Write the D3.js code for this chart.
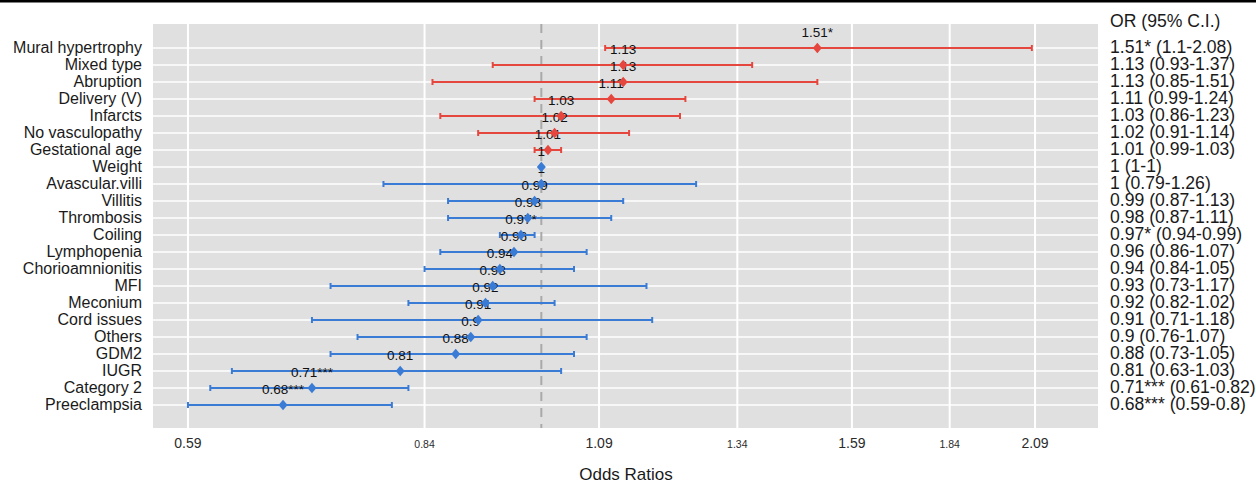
<!DOCTYPE html>
<html>
<head>
<meta charset="utf-8">
<script src="https://cdn.jsdelivr.net/npm/d3@7"></script>
<style>
  body { margin: 0; background: #fff; }
  svg { display: block; font-family: "Liberation Sans", Arial, Helvetica, sans-serif; }
</style>
</head>
<body>
<div id="chart"></div>
<script>
const labels = ["Mural hypertrophy", "Mixed type", "Abruption", "Delivery (V)", "Infarcts", "No vasculopathy",
  "Gestational age", "Weight", "Avascular.villi", "Villitis", "Thrombosis", "Coiling", "Lymphopenia",
  "Chorioamnionitis", "MFI", "Meconium", "Cord issues", "Others", "GDM2", "IUGR", "Category 2", "Preeclampsia"];
const oddsRatio = [1.51, 1.13, 1.13, 1.11, 1.03, 1.02, 1.01, 1, 1, 0.99, 0.98, 0.97, 0.96, 0.94, 0.93, 0.92, 0.91, 0.9, 0.88, 0.81, 0.71, 0.68];
const ciLower = [1.1, 0.93, 0.85, 0.99, 0.86, 0.91, 0.99, 1, 0.79, 0.87, 0.87, 0.94, 0.86, 0.84, 0.73, 0.82, 0.71, 0.76, 0.73, 0.63, 0.61, 0.59];
const ciUpper = [2.08, 1.37, 1.51, 1.24, 1.23, 1.14, 1.03, 1, 1.26, 1.13, 1.11, 0.99, 1.07, 1.05, 1.17, 1.02, 1.18, 1.07, 1.05, 1.03, 0.82, 0.8];
const stars = ["*", "", "", "", "", "", "", "", "", "", "", "*", "", "", "", "", "", "", "", "", "***", "***"];
const xTicks = [0.59, 0.84, 1.09, 1.34, 1.59, 1.84, 2.09];

const W = 1256, H = 485;
const panel = { left: 153, right: 1098, top: 24, bottom: 428 };
const red = "#e5463d", blue = "#3a7bd5";

const rows = labels.map((name, i) => ({
  name, or: oddsRatio[i], lo: ciLower[i], hi: ciUpper[i], star: stars[i]
}));

const svg = d3.select("#chart").append("svg")
    .attr("width", W)
    .attr("height", H);

// thin black strip across the top
svg.append("rect").attr("x", 0).attr("y", 0).attr("width", W).attr("height", 2.5).attr("fill", "#000");

const x = d3.scaleLog().domain([0.56, 2.296]).range([panel.left, panel.right]);
const y = d3.scalePoint().domain(labels).range([48, 405]);

svg.append("rect")
    .attr("x", panel.left).attr("y", panel.top)
    .attr("width", panel.right - panel.left).attr("height", panel.bottom - panel.top)
    .attr("fill", "#e0e0e0");

// grid
svg.append("g").selectAll("line").data(labels).join("line")
    .attr("x1", panel.left).attr("x2", panel.right)
    .attr("y1", d => y(d)).attr("y2", d => y(d))
    .attr("stroke", "#fff").attr("stroke-width", 1.6);

svg.append("g").selectAll("line").data(xTicks).join("line")
    .attr("x1", d => x(d)).attr("x2", d => x(d))
    .attr("y1", panel.top).attr("y2", panel.bottom)
    .attr("stroke", "#fff").attr("stroke-width", 2);

// reference line at OR = 1
svg.append("line")
    .attr("x1", x(1)).attr("x2", x(1))
    .attr("y1", panel.top).attr("y2", panel.bottom)
    .attr("stroke", "#a9a9a9").attr("stroke-width", 2)
    .attr("stroke-dasharray", "9,7");

const colorOf = d => d.or > 1 ? red : blue;

// error bars
const bars = svg.append("g").selectAll("g").data(rows).join("g")
    .attr("stroke", colorOf).attr("stroke-width", 2);
bars.append("line")
    .attr("x1", d => x(d.lo)).attr("x2", d => x(d.hi))
    .attr("y1", d => y(d.name)).attr("y2", d => y(d.name));
bars.append("line")
    .attr("x1", d => x(d.lo)).attr("x2", d => x(d.lo))
    .attr("y1", d => y(d.name) - 3).attr("y2", d => y(d.name) + 3);
bars.append("line")
    .attr("x1", d => x(d.hi)).attr("x2", d => x(d.hi))
    .attr("y1", d => y(d.name) - 3).attr("y2", d => y(d.name) + 3);

// point labels (nudged up)
svg.append("g").selectAll("text").data(rows).join("text")
    .attr("x", d => x(d.or))
    .attr("y", d => y(d.name) - 11.5)
    .attr("text-anchor", "middle")
    .attr("font-size", 13.5)
    .attr("fill", "#111")
    .text(d => `${d.or}${d.star}`);

// diamonds
svg.append("g").selectAll("path").data(rows).join("path")
    .attr("d", d => {
      const cx = x(d.or), cy = y(d.name), p = d3.path();
      p.moveTo(cx, cy - 5.2); p.lineTo(cx + 4.5, cy); p.lineTo(cx, cy + 5.2); p.lineTo(cx - 4.5, cy); p.closePath();
      return p.toString();
    })
    .attr("fill", colorOf);

// y labels
svg.append("g").selectAll("text").data(labels).join("text")
    .attr("x", 142)
    .attr("y", d => y(d) + 4.5)
    .attr("text-anchor", "end")
    .attr("font-size", 16)
    .attr("fill", "#1a1a1a")
    .text(d => d);

// right column: OR (95% C.I.)
svg.append("text")
    .attr("x", 1110).attr("y", 27)
    .attr("font-size", 17.6)
    .attr("fill", "#1a1a1a")
    .text("OR (95% C.I.)");

svg.append("g").selectAll("text").data(rows).join("text")
    .attr("x", 1110)
    .attr("y", d => y(d.name) + 5)
    .attr("font-size", 17.6)
    .attr("fill", "#1a1a1a")
    .text(d => `${d.or}${d.star} (${d.lo}-${d.hi})`);

// x tick labels, alternating sizes
svg.append("g").selectAll("text").data(xTicks).join("text")
    .attr("x", d => x(d))
    .attr("y", 448)
    .attr("text-anchor", "middle")
    .attr("font-size", (d, i) => i % 2 === 0 ? 14 : 10.5)
    .attr("fill", "#2b2b2b")
    .text(d => d);

svg.append("text")
    .attr("x", 626).attr("y", 480)
    .attr("text-anchor", "middle")
    .attr("font-size", 17)
    .attr("fill", "#1a1a1a")
    .text("Odds Ratios");
</script>
</body>
</html>
